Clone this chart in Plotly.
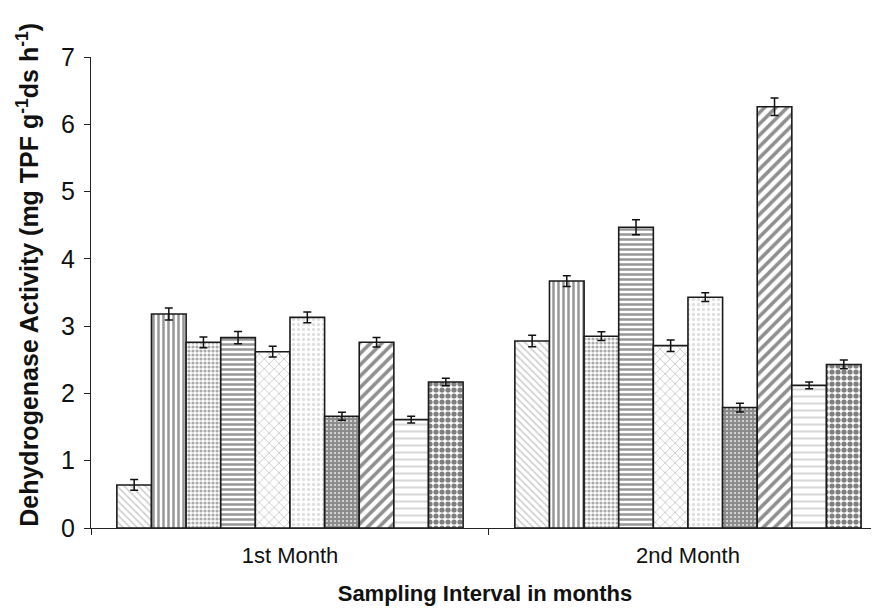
import plotly.graph_objects as go

months = ["1st Month", "2nd Month"]
treatments = ["T1", "T2", "T3", "T4", "T5", "T6", "T7", "T8", "T9", "T10"]
month1 = [0.64, 3.18, 2.76, 2.83, 2.62, 3.13, 1.66, 2.76, 1.61, 2.17]
month2 = [2.78, 3.67, 2.85, 4.47, 2.71, 3.43, 1.79, 6.26, 2.12, 2.43]
err1 = [0.08, 0.09, 0.08, 0.09, 0.08, 0.08, 0.06, 0.07, 0.05, 0.055]
err2 = [0.085, 0.08, 0.065, 0.11, 0.085, 0.065, 0.065, 0.13, 0.05, 0.065]

y_title = "<b>Dehydrogenase Activity (mg TPF g<sup>-1</sup>ds h<sup>-1</sup>)</b>"
x_title = "<b>Sampling Interval in months</b>"

patterns = [
    dict(shape="\\", fgcolor="#9a9a9a", size=5, solidity=0.3),
    dict(shape="|", fgcolor="#303030", size=5, solidity=0.5),
    dict(shape=".", fgcolor="#555555", size=4, solidity=0.5),
    dict(shape="-", fgcolor="#303030", size=5, solidity=0.5),
    dict(shape="x", fgcolor="#9a9a9a", size=7, solidity=0.25),
    dict(shape=".", fgcolor="#c0c0c0", size=5, solidity=0.35),
    dict(shape=".", fgcolor="#151515", size=4, solidity=0.8),
    dict(shape="/", fgcolor="#202020", size=8, solidity=0.45),
    dict(shape="-", fgcolor="#b0b0b0", size=7, solidity=0.3),
    dict(shape=".", fgcolor="#000000", size=6, solidity=0.6),
]

fig = go.Figure()
for i, name in enumerate(treatments):
    fig.add_trace(go.Bar(
        x=months,
        y=[month1[i], month2[i]],
        name=name,
        marker=dict(color="white", line=dict(color="#1a1a1a", width=1.6),
                    pattern=dict(bgcolor="white", **patterns[i])),
        error_y=dict(type="data", array=[err1[i], err2[i]], visible=True,
                     color="#111111", thickness=1.5, width=4),
    ))

fig.update_layout(
    width=871, height=600,
    margin=dict(l=83, r=0, t=49, b=80),
    barmode="group", bargap=0.13, bargroupgap=0,
    showlegend=False,
    plot_bgcolor="white", paper_bgcolor="white",
    font=dict(family="Liberation Sans, Arial, sans-serif", color="#111111", size=19),
    xaxis=dict(
        type="category", range=[-0.5, 1.48],
        showline=True, linecolor="#222222", linewidth=1.2,
        ticks="outside", tickson="boundaries", ticklen=6, tickcolor="#222222",
        tickfont=dict(size=22),
        ticklabelstandoff=7,
        title=dict(text=x_title, font=dict(size=22), standoff=19),
    ),
    yaxis=dict(
        range=[0, 7], dtick=1,
        showline=True, linecolor="#222222", linewidth=1.2,
        ticks="outside", ticklen=6, tickcolor="#222222",
        showgrid=False, zeroline=False,
        tickfont=dict(size=25),
        ticklabelstandoff=4,
    ),
    annotations=[dict(
        text=y_title, textangle=-90, showarrow=False,
        xref="paper", yref="paper", x=-0.081, y=0.538,
        xanchor="center", yanchor="middle",
        font=dict(size=25, color="#111111"),
    )],
)

fig.write_html("out.html")
